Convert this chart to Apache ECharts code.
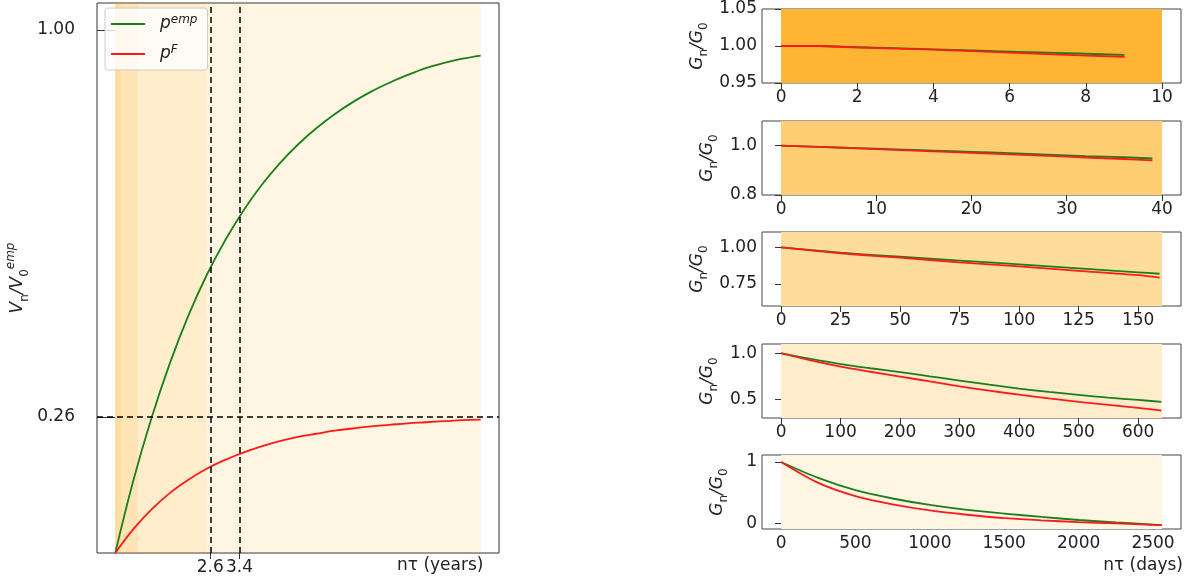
<!DOCTYPE html>
<html>
<head>
<meta charset="utf-8">
<script src="https://cdn.jsdelivr.net/npm/echarts@6/dist/echarts.min.js"></script>
<style>html,body{margin:0;background:#fff}#container{width:1189px;height:580px}</style>
</head>
<body>
<div id="container"></div>
<script>
// left panel: value vs horizon in years
var years = [0,0.5,1,1.5,2,2.5,3,3.5,4,4.5,5,5.5,6,6.5,7,7.5,8,8.5,9,9.5,10];
var vEmp = [0,0.14,0.26,0.364,0.454,0.531,0.597,0.654,0.703,0.745,0.781,0.812,0.839,0.862,0.882,0.899,0.914,0.927,0.937,0.945,0.951];
var vF = [0,0.046,0.084,0.115,0.14,0.161,0.178,0.192,0.204,0.214,0.222,0.228,0.234,0.238,0.242,0.245,0.248,0.25,0.252,0.254,0.255];
var horizonsYears = [0.039,0.156,0.625,2.5,10];
var markX = [2.6,3.4];
var markY = 0.26;

// right panels: G_n/G_0 vs days
var days1 = [0,1,2,3,4,5,6,7,8,9];
var g1Emp = [1.000,0.9985,0.997,0.9955,0.994,0.9925,0.991,0.9895,0.988,0.987];
var g1F = [1.000,0.998,0.9965,0.995,0.993,0.991,0.989,0.987,0.9855,0.984];
var days2 = [0,4,8,12,16,20,24,28,32,36,39];
var g2Emp = [1,0.995,0.99,0.985,0.98,0.975,0.97,0.964,0.958,0.953,0.948];
var g2F = [1,0.995,0.989,0.983,0.977,0.971,0.965,0.959,0.952,0.946,0.94];
var days3 = [0,25,50,75,100,125,150,159];
var g3Emp = [1,0.964,0.936,0.91,0.884,0.857,0.83,0.82];
var g3F = [1,0.96,0.93,0.898,0.87,0.84,0.81,0.793];
var days4 = [0,50,100,150,200,250,300,350,400,450,500,550,600,639];
var g4Emp = [1,0.938,0.882,0.838,0.796,0.75,0.705,0.66,0.618,0.582,0.55,0.52,0.495,0.475];
var g4F = [1,0.922,0.855,0.8,0.748,0.695,0.643,0.595,0.552,0.512,0.475,0.442,0.41,0.38];
var days5 = [0,250,500,750,1000,1250,1500,1750,2000,2250,2500,2559];
var g5Emp = [1,0.74,0.54,0.405,0.3,0.22,0.16,0.105,0.055,0.015,-0.02,-0.03];
var g5F = [1,0.66,0.445,0.31,0.21,0.14,0.085,0.05,0.02,0.0,-0.025,-0.03];

var panels = [
  {x: days1, e: g1Emp, f: g1F, end: 10, xr: [-0.5,10.5], xt: [0,2,4,6,8,10], yr: [0.95,1.05], yt: [0.95,1.00,1.05], dec: 2, bg: '#FFB533', step: true},
  {x: days2, e: g2Emp, f: g2F, end: 40, xr: [-2,42], xt: [0,10,20,30,40], yr: [0.8,1.1], yt: [0.8,1.0], dec: 1, bg: '#FFCD72'},
  {x: days3, e: g3Emp, f: g3F, end: 160, xr: [-8,168], xt: [0,25,50,75,100,125,150], yr: [0.6,1.105], yt: [0.75,1.00], dec: 2, bg: '#FEDC9C'},
  {x: days4, e: g4Emp, f: g4F, end: 640, xr: [-32,672], xt: [0,100,200,300,400,500,600], yr: [0.3,1.1], yt: [0.5,1.0], dec: 1, bg: '#FEECCA'},
  {x: days5, e: g5Emp, f: g5F, end: 2560, xr: [-128,2688], xt: [0,500,1000,1500,2000,2500], yr: [-0.092,1.114], yt: [0,1], dec: 0, bg: '#FEF5E3'}
];
var panelTops = [9,121,232,344,455];

function pairs(xs, ys) {
  return xs.map(function (x, i) { return [x, ys[i]]; });
}

var font = 'DejaVu Sans';
var fs = 17;
var grid = [{left: 97, right: 690, top: 3, bottom: 27, show: true, borderColor: '#333', borderWidth: 1, outerBoundsMode: 'none'}];
var xAxis = [{
  gridIndex: 0, type: 'value', min: -0.5, max: 10.5, splitLine: {show: false},
  axisLine: {show: false}, axisTick: {customValues: markX, length: 6, lineStyle: {color: '#333'}},
  axisLabel: {customValues: markX, fontFamily: font, fontSize: fs, color: '#222', margin: 6}
}];
var yAxis = [{
  gridIndex: 0, type: 'value', min: 0, max: 1.0515, splitLine: {show: false},
  axisLine: {show: false}, axisTick: {customValues: [markY, 1.0], length: 18, lineStyle: {color: '#333'}},
  axisLabel: {customValues: [markY, 1.0], fontFamily: font, fontSize: fs, color: '#222', margin: 22,
    formatter: function (v) { return v.toFixed(2); }},
  name: '{i|V}{s|n}{i|/V}{s|0}{p|emp}', nameLocation: 'middle', nameGap: 66,
  nameTextStyle: {fontFamily: font, fontSize: 17, color: '#222', lineHeight: 26, rich: {
    i: {fontStyle: 'italic', fontSize: 17, fontFamily: font},
    s: {fontSize: 12, verticalAlign: 'bottom', fontFamily: font},
    p: {fontSize: 12, fontStyle: 'italic', verticalAlign: 'top', fontFamily: font}
  }}
}];

var bandAreas = horizonsYears.map(function (h) {
  return [{xAxis: 0, itemStyle: {color: 'rgba(255,165,0,0.11)'}}, {xAxis: h}];
});

var series = [
  {name: 'emp', type: 'line', xAxisIndex: 0, yAxisIndex: 0, data: pairs(years, vEmp), smooth: 0.4,
   showSymbol: false, lineStyle: {color: '#1a7f1a', width: 1.8}, itemStyle: {color: '#1a7f1a'}, z: 3,
   markArea: {silent: true, data: bandAreas},
   markLine: {silent: true, symbol: 'none', label: {show: false},
     lineStyle: {color: '#000', type: [6, 4], width: 1.5},
     data: [{xAxis: markX[0]}, {xAxis: markX[1]}, {yAxis: markY}]}},
  {name: 'F', type: 'line', xAxisIndex: 0, yAxisIndex: 0, data: pairs(years, vF), smooth: 0.4,
   showSymbol: false, lineStyle: {color: '#ff1a1a', width: 1.8}, itemStyle: {color: '#ff1a1a'}, z: 3}
];

panels.forEach(function (p, k) {
  var gi = k + 1;
  grid.push({left: 762, right: 8, top: panelTops[k], height: 74, show: true, borderColor: '#444', borderWidth: 1, outerBoundsMode: 'none'});
  xAxis.push({gridIndex: gi, type: 'value', min: p.xr[0], max: p.xr[1], splitLine: {show: false},
    axisLine: {show: false}, axisTick: {customValues: p.xt, length: 6, lineStyle: {color: '#333'}},
    axisLabel: {customValues: p.xt, fontFamily: font, fontSize: fs, color: '#222', margin: 6,
      formatter: function (v) { return String(v); }}});
  yAxis.push({gridIndex: gi, type: 'value', min: p.yr[0], max: p.yr[1], splitLine: {show: false},
    axisLine: {show: false}, axisTick: {customValues: p.yt, length: 6, lineStyle: {color: '#333'}},
    axisLabel: {customValues: p.yt, fontFamily: font, fontSize: fs, color: '#222', margin: 5,
      formatter: (function (d) { return function (v) { return v.toFixed(d); }; })(p.dec)},
    name: '{i|G}{s|n}{i|/G}{s|0}', nameLocation: 'middle', nameGap: p.dec === 2 ? 52 : (p.dec === 1 ? 42 : 32),
    nameTextStyle: {fontFamily: font, fontSize: 17, color: '#222', lineHeight: 24, rich: {
      i: {fontStyle: 'italic', fontSize: 17, fontFamily: font},
      s: {fontSize: 12, verticalAlign: 'bottom', fontFamily: font}
    }}});
  var stepMode = p.step ? 'end' : false;
  series.push({type: 'line', xAxisIndex: gi, yAxisIndex: gi, data: pairs(p.x, p.e), smooth: p.step ? false : 0.3, step: stepMode,
    showSymbol: false, lineStyle: {color: '#1a7f1a', width: 1.8}, z: 3,
    markArea: {silent: true, data: [[{xAxis: 0, itemStyle: {color: p.bg}}, {xAxis: p.end}]]}});
  series.push({type: 'line', xAxisIndex: gi, yAxisIndex: gi, data: pairs(p.x, p.f), smooth: p.step ? false : 0.3, step: stepMode,
    showSymbol: false, lineStyle: {color: '#ff1a1a', width: 1.8}, z: 4});
});

var myChart = echarts.init(document.getElementById('container'));
myChart.setOption({
  animation: false,
  textStyle: {fontFamily: font},
  legend: {
    left: 105, top: 8, orient: 'vertical', data: ['emp', 'F'], itemWidth: 34, itemHeight: 2, itemGap: 10,
    icon: 'rect', padding: [6, 10, 6, 6], backgroundColor: 'rgba(255,255,255,0.8)',
    borderColor: '#ccc', borderWidth: 1, borderRadius: 3,
    formatter: function (n) { return n === 'emp' ? '{i|p}{p|emp}' : '{i|p}{p|F}'; },
    textStyle: {fontFamily: font, color: '#222', lineHeight: 20, rich: {
      i: {fontStyle: 'italic', fontSize: 17, fontFamily: font, padding: [0, 0, 0, 10]},
      p: {fontStyle: 'italic', fontSize: 12, verticalAlign: 'top', fontFamily: font}
    }}
  },
  graphic: [
    {type: 'text', left: 397, top: 557, style: {text: 'nτ (years)', font: '17px "DejaVu Sans"', fill: '#222'}},
    {type: 'text', right: 6, top: 557, style: {text: 'nτ (days)', font: '17px "DejaVu Sans"', fill: '#222'}}
  ],
  grid: grid,
  xAxis: xAxis,
  yAxis: yAxis,
  series: series
});
</script>
</body>
</html>
